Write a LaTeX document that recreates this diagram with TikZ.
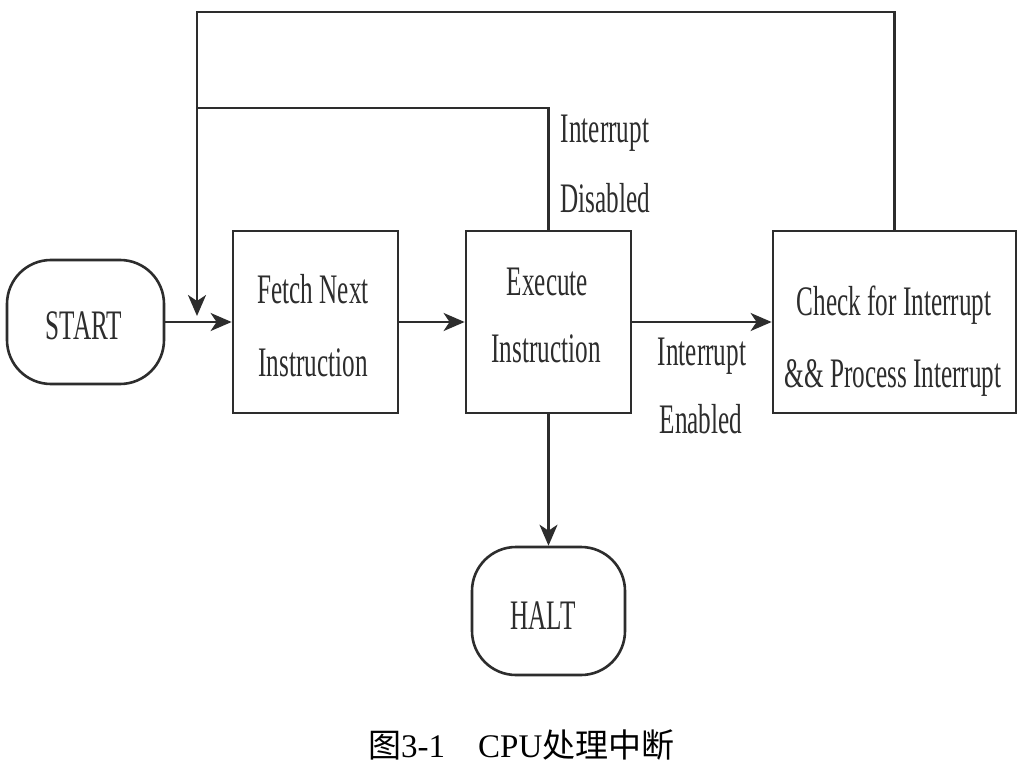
\documentclass[tikz,border=0pt]{standalone}
\usepackage{fontspec}
\setmainfont{Liberation Serif}[FakeStretch=0.6]
\newfontfamily\capfont{Liberation Serif}
\newfontfamily\cjk{Noto Sans CJK SC}
\usetikzlibrary{arrows.meta}
\definecolor{ink}{RGB}{45,45,45}
\begin{document}
\begin{tikzpicture}[x=1pt,y=-1pt,
  box/.style={draw=ink,line width=2.8pt,minimum width=#1,minimum height=182pt,inner sep=0pt},
  term/.style={draw=ink,line width=2.6pt,rounded corners=44pt,inner sep=0pt},
  wire/.style={draw=ink,line width=2.5pt},
  arr/.style={wire,-{Stealth[length=21pt,width=18pt,inset=6pt]}},
  txt/.style={anchor=base,inner sep=0pt,text=ink,font=\fontsize{42}{42}\selectfont},
  captxt/.style={anchor=base west,inner sep=0pt,text=black,font=\fontsize{33}{33}\selectfont\capfont}]
\useasboundingbox[fill=white] (0,0) rectangle (1025,767);
% nodes
\node[term,minimum width=157pt,minimum height=124pt] (start) at (85.5,322) {};
\node[box=165pt] (fetch) at (315.5,322) {};
\node[box=165pt] (exec) at (548.5,322) {};
\node[box=243pt] (check) at (894.5,322) {};
\node[term,minimum width=153pt,minimum height=128pt] (halt) at (548.5,611) {};
% texts
\node[txt] (startT) at (84,339) {START};
\node[txt] (fetchA) at (313,303) {Fetch Next};
\node[txt] (fetchB) at (313,376) {Instruction};
\node[txt] (execA) at (547.5,295) {Execute};
\node[txt] (execB) at (546,362) {Instruction};
\node[txt] (checkA) at (894,315) {Check for Interrupt};
\node[txt] (checkB) at (893,387) {\&\& Process Interrupt};
\node[txt] (haltT) at (543,629) {HALT};
\node[txt] (disA) at (605,143) {Interrupt};
\node[txt] (disB) at (605,213) {Disabled};
\node[txt] (enA) at (702,365) {Interrupt};
\node[txt] (enB) at (701,433) {Enabled};
% caption
\node[captxt] (cap1) at (368,757) {{\cjk 图}3-1};
\node[captxt] (cap2) at (478,757) {CPU{\cjk 处理中断}};
% coordinates
\coordinate (inner) at (197,108);
\coordinate (outer) at (197,12);
\coordinate (tip) at (197,316);
% connectors
\draw[arr] (start) -- (fetch);
\draw[arr] (fetch) -- (exec);
\draw[arr] (exec) -- (check);
\draw[arr] (exec) -- (halt);
\draw[arr] (exec.north) |- (inner) -- (tip);
\draw[wire] (check.north) |- (outer) -- (inner);
\end{tikzpicture}
\end{document}
